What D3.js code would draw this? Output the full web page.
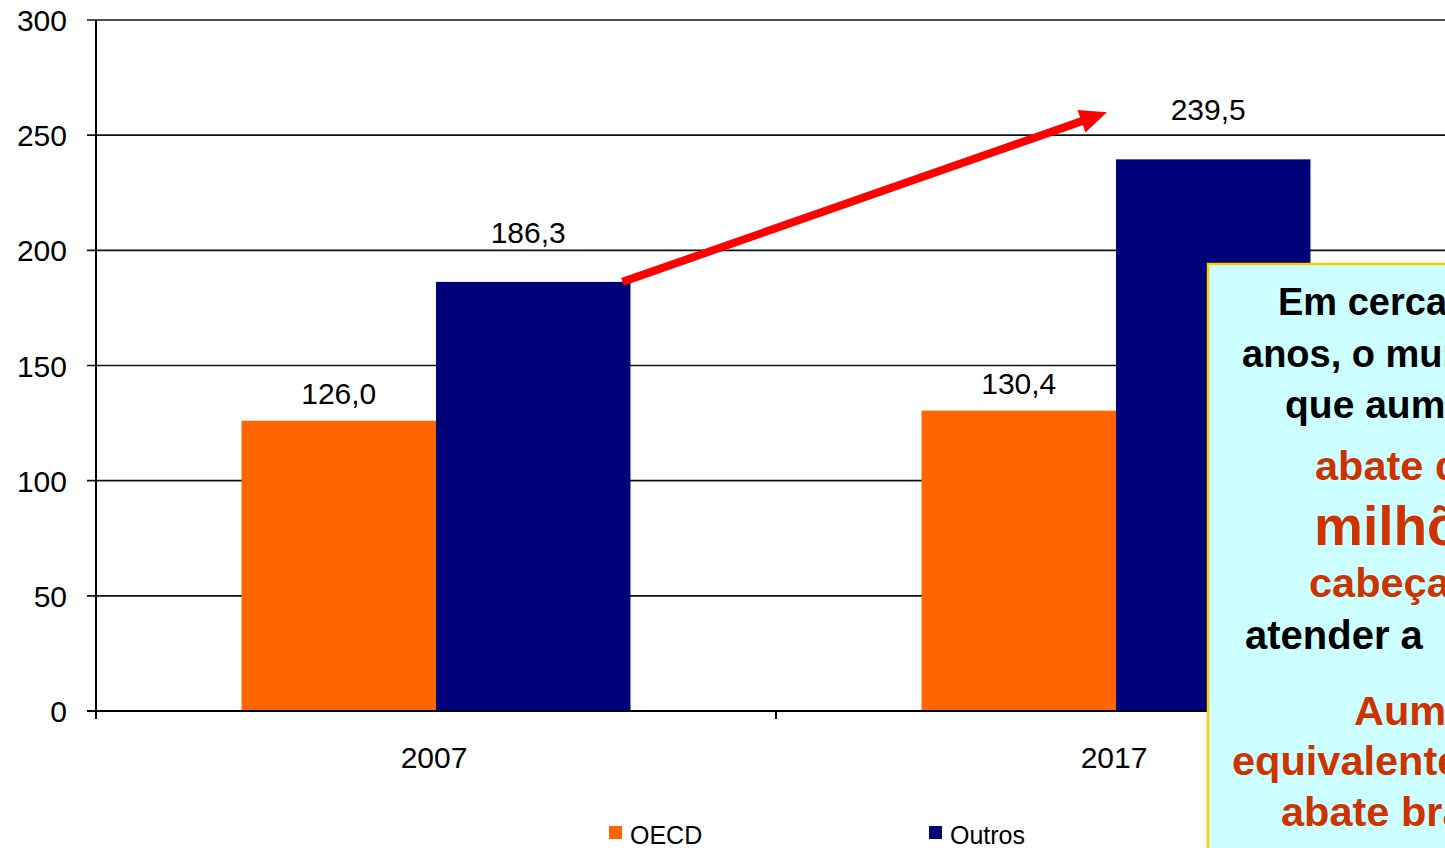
<!DOCTYPE html>
<html>
<head>
<meta charset="utf-8">
<script src="https://cdn.jsdelivr.net/npm/d3@7"></script>
<style>
  html, body { margin: 0; padding: 0; background: #fff; overflow: hidden; }
  svg { display: block; font-family: "Liberation Sans", Arial, sans-serif; }
</style>
</head>
<body>
<svg id="chart" width="1445" height="848"></svg>
<script>
// ---- data ----
const categories = ["2007", "2017"];
const seriesNames = ["OECD", "Outros"];
const oecdValues = [126.0, 130.4];
const outrosValues = [186.3, 239.5];
const valueLabels = [["126,0", "186,3"], ["130,4", "239,5"]];
const yTicks = [0, 50, 100, 150, 200, 250, 300];
const seriesColors = ["#ff6600", "#000078"];

const noteBlack1 = ["Em cerca de", "anos, o mundo", "que aumentar"];
const noteRed1 = ["abate de"];
const noteRedBig = ["milhões"];
const noteRed2 = ["cabeças"];
const noteBlack2 = ["atender a"];
const noteRed3 = ["Aumento", "equivalente", "abate brasileiro"];

// ---- layout ----
const svg = d3.select("#chart");
const plotLeft = 96, plotTop = 20, plotBottom = 711, plotRight = 1456;

const x0 = d3.scaleBand().domain(categories).range([plotLeft, plotRight]).paddingInner(0).paddingOuter(0);
const gap = x0.bandwidth() * 0.214;
const x1 = d3.scaleBand().domain(seriesNames).range([gap, x0.bandwidth() - gap]).padding(0);
const y = d3.scaleLinear().domain([0, 300]).range([plotBottom, plotTop]);

// gridlines
svg.append("g").selectAll("line").data(yTicks).join("line")
  .attr("x1", plotLeft - 9).attr("x2", 1445)
  .attr("y1", d => y(d)).attr("y2", d => y(d))
  .attr("stroke", "#111").attr("stroke-width", 1.6);

// y tick labels
svg.append("g").selectAll("text").data(yTicks).join("text")
  .attr("x", 67).attr("y", d => y(d) + 11)
  .attr("text-anchor", "end").attr("font-size", 30).attr("fill", "#000")
  .text(d => d);

// bars
const labelLift = [17, 39];
const labelShift = [0, -5];
const rows = categories.map((c, i) => ({ cat: c, vals: [oecdValues[i], outrosValues[i]], labels: valueLabels[i] }));
const groups = svg.append("g").selectAll("g").data(rows).join("g")
  .attr("transform", d => `translate(${x0(d.cat)},0)`);

groups.selectAll("rect").data(d => d.vals.map((v, j) => ({ s: seriesNames[j], v, j }))).join("rect")
  .attr("x", d => x1(d.s)).attr("width", x1.bandwidth())
  .attr("y", d => y(d.v)).attr("height", d => plotBottom - y(d.v))
  .attr("fill", d => seriesColors[d.j]);

groups.selectAll("text").data(d => d.vals.map((v, j) => ({ s: seriesNames[j], v, j, lab: d.labels[j] }))).join("text")
  .attr("x", d => x1(d.s) + x1.bandwidth() / 2 + labelShift[d.j]).attr("y", d => y(d.v) - labelLift[d.j])
  .attr("text-anchor", "middle").attr("font-size", 30).attr("fill", "#000")
  .text(d => d.lab);

// axes lines
svg.append("line").attr("x1", plotLeft).attr("x2", plotLeft).attr("y1", plotTop).attr("y2", plotBottom + 8)
  .attr("stroke", "#000").attr("stroke-width", 2);
svg.append("line").attr("x1", plotLeft - 9).attr("x2", 1445).attr("y1", plotBottom).attr("y2", plotBottom)
  .attr("stroke", "#000").attr("stroke-width", 2);
svg.append("g").selectAll("line").data(categories).join("line")
  .attr("x1", d => x0(d)).attr("x2", d => x0(d))
  .attr("y1", plotBottom).attr("y2", plotBottom + 8)
  .attr("stroke", "#000").attr("stroke-width", 2);

// category labels
svg.append("g").selectAll("text").data(categories).join("text")
  .attr("x", d => x0(d) + x0.bandwidth() / 2 - 2).attr("y", 768)
  .attr("text-anchor", "middle").attr("font-size", 30).attr("fill", "#000")
  .text(d => d);

// legend
const legendX = [609, 929];
const leg = svg.append("g").selectAll("g").data(seriesNames).join("g")
  .attr("transform", (d, i) => `translate(${legendX[i]},826)`);
leg.append("rect").attr("width", 13).attr("height", 13).attr("fill", (d, i) => seriesColors[i]);
leg.append("text").attr("x", 21).attr("y", 18).attr("font-size", 25).attr("fill", "#000").text(d => d);

// arrow (annotation) from top of 2007 Outros bar towards 2017 Outros bar
const ax1 = x0("2007") + x1("Outros") + x1.bandwidth() - 8;
const ay1 = y(outrosValues[0]);
const ax2 = x0("2017") + x1("Outros") - 9;
const ay2 = y(outrosValues[1]) - 47;
const ang = Math.atan2(ay2 - ay1, ax2 - ax1);
const headLen = 27, headHalf = 12;
const bx = ax2 - headLen * Math.cos(ang), by = ay2 - headLen * Math.sin(ang);
svg.append("line").attr("x1", ax1).attr("y1", ay1).attr("x2", bx + 2 * Math.cos(ang)).attr("y2", by + 2 * Math.sin(ang))
  .attr("stroke", "#ff0000").attr("stroke-width", 8);
svg.append("polygon")
  .attr("points", [
    [ax2, ay2],
    [bx - headHalf * Math.sin(ang), by + headHalf * Math.cos(ang)],
    [bx + headHalf * Math.sin(ang), by - headHalf * Math.cos(ang)]
  ].map(p => p.join(",")).join(" "))
  .attr("fill", "#ff0000");

// note box
const note = svg.append("g");
note.append("rect").attr("x", 1208).attr("y", 264).attr("width", 400).attr("height", 700)
  .attr("fill", "#ccffff").attr("stroke", "#ffcc00").attr("stroke-width", 2.5);

const black = "#000000", red = "#cc3300";
const lines = [
  { t: noteBlack1[0], x: 1278, y: 315, s: 38, c: black },
  { t: noteBlack1[1], x: 1242, y: 367, s: 38, c: black },
  { t: noteBlack1[2], x: 1285, y: 418, s: 39, c: black },
  { t: noteRed1[0], x: 1315, y: 480, s: 41.5, c: red },
  { t: noteRedBig[0], x: 1314, y: 545, s: 55, c: red },
  { t: noteRed2[0], x: 1309, y: 597, s: 41.5, c: red },
  { t: noteBlack2[0], x: 1245, y: 649, s: 40, c: black },
  { t: noteRed3[0], x: 1354, y: 725, s: 41.5, c: red },
  { t: noteRed3[1], x: 1232, y: 775, s: 41.5, c: red },
  { t: noteRed3[2], x: 1281, y: 826, s: 41.5, c: red }
];
note.selectAll("text").data(lines).join("text")
  .attr("x", d => d.x).attr("y", d => d.y)
  .attr("font-size", d => d.s).attr("font-weight", "bold").attr("fill", d => d.c)
  .text(d => d.t);
</script>
</body>
</html>
